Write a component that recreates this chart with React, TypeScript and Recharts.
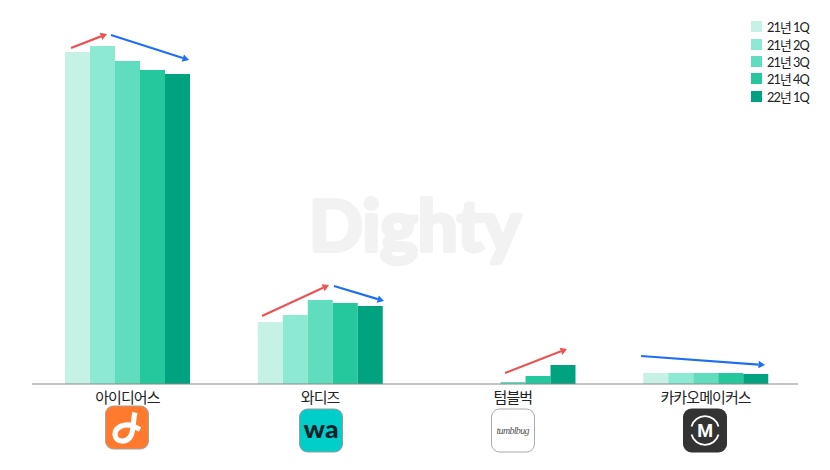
import { BarChart, Bar, XAxis, YAxis, Legend } from 'recharts';

const categories = ['아이디어스', '와디즈', '텀블벅', '카카오메이커스'];
const seriesNames = ['21년 1Q', '21년 2Q', '21년 3Q', '21년 4Q', '22년 1Q'];
const q1_21 = [332, 62, 0, 11];
const q2_21 = [338, 69, 0, 11];
const q3_21 = [323, 84, 2, 11];
const q4_21 = [314, 81, 8, 11];
const q1_22 = [310, 78, 19, 10];
const seriesValues = [q1_21, q2_21, q3_21, q4_21, q1_22];
const COLORS = ['#c6f2e6', '#8de9d2', '#60ddbe', '#25c79c', '#00a27f'];

const data = categories.map((name, i) => {
  const row: any = { name };
  seriesNames.forEach((s, j) => {
    row[s] = seriesValues[j][i];
  });
  return row;
});

const RED = '#ea5455';
const BLUE = '#1f6ff0';
// trend arrows drawn over the bars: [x1, y1, x2, y2, colour]
const arrows: [number, number, number, number, string][] = [
  [71, 48, 107, 34, RED],
  [111, 35, 189, 60, BLUE],
  [262, 316, 329, 285, RED],
  [334, 286, 384, 301, BLUE],
  [505, 373, 567, 349, RED],
  [641, 356, 765, 365, BLUE],
];

function Arrow({ x1, y1, x2, y2, color }: any) {
  const a = Math.atan2(y2 - y1, x2 - x1);
  const len = 6.5;
  const w = 3.8;
  const bx = x2 - len * Math.cos(a);
  const by = y2 - len * Math.sin(a);
  const px = -Math.sin(a) * w;
  const py = Math.cos(a) * w;
  return (
    <g>
      <line x1={x1} y1={y1} x2={bx} y2={by} stroke={color} strokeWidth={2.2} />
      <polygon points={`${x2},${y2} ${bx + px},${by + py} ${bx - px},${by - py}`} fill={color} />
    </g>
  );
}

function Logo({ index }: { index: number }) {
  const box = (fill: string, stroke: string) => (
    <rect x={-21.5} y={-21.5} width={43} height={43} rx={8} fill={fill} stroke={stroke} strokeWidth={1} />
  );
  if (index === 0) {
    return (
      <g>
        {box('#ff7a2d', '#a9a39e')}
        <path
          d="M8 -15 C6 -8 7 2 4 8 C0 16 -12 15 -12 7 C-12 -1 -2 -4 5 -2 L13 2"
          fill="none"
          stroke="#fff"
          strokeWidth={5.2}
        />
      </g>
    );
  }
  if (index === 1) {
    return (
      <g>
        {box('#00cfc9', '#999')}
        <text
          x={0}
          y={7.5}
          textAnchor="middle"
          fontFamily="Lato"
          fontWeight={900}
          fontSize={25}
          textLength={35}
          lengthAdjust="spacingAndGlyphs"
          fill="#15202b"
        >
          wa
        </text>
      </g>
    );
  }
  if (index === 2) {
    return (
      <g>
        {box('#fff', '#aaa')}
        <text
          x={0}
          y={3}
          textAnchor="middle"
          fontFamily="Liberation Serif"
          fontStyle="italic"
          fontSize={10}
          textLength={33}
          fill="#555"
        >
          tumblbug
        </text>
      </g>
    );
  }
  return (
    <g>
      {box('#333', '#333')}
      <path d="M-13.5 -4 A14 14 0 0 1 13.5 -4" fill="none" stroke="#fff" strokeWidth={1.8} />
      <path d="M-13.5 4 A14 14 0 0 0 13.5 4" fill="none" stroke="#fff" strokeWidth={1.8} />
      <text x={0} y={6.5} textAnchor="middle" fontFamily="Roboto" fontWeight={700} fontSize={18} fill="#fff">
        M
      </text>
    </g>
  );
}

// logo centre relative to the tick position
const logoOffsets = [
  [-0.4, 35.5],
  [0.9, 38.5],
  [0.1, 38.5],
  [-0.6, 38.5],
];

function CategoryTick({ x, y, payload, index }: any) {
  const off = logoOffsets[index];
  return (
    <g transform={`translate(${x},${y})`}>
      <text x={0} y={11} textAnchor="middle" fontFamily="'Noto Sans CJK KR'" fontSize={15} letterSpacing={-0.9} fill="#222">
        {payload.value}
      </text>
      <g transform={`translate(${off[0]},${off[1]})`}>
        <Logo index={index} />
      </g>
    </g>
  );
}

function LegendList({ payload }: any) {
  return (
    <div style={{ width: 70, whiteSpace: 'nowrap' }}>
      {(payload || []).map((p: any) => (
        <div key={p.value} style={{ display: 'flex', alignItems: 'center', height: 17.4 }}>
          <span style={{ width: 11, height: 11, background: p.color, marginRight: 5 }} />
          <span style={{ fontFamily: "Lato, 'Noto Sans CJK KR'", fontSize: 12.8, letterSpacing: -0.95, color: '#222' }}>
            {p.value}
          </span>
        </div>
      ))}
    </div>
  );
}

export default function App() {
  return (
    <div style={{ position: 'absolute', left: 0, top: 0, width: 830, height: 470, background: '#fff' }}>
      <svg width={830} height={470} style={{ position: 'absolute', left: 0, top: 0 }}>
        <text
          x={415}
          y={251}
          textAnchor="middle"
          fontFamily="Lato"
          fontWeight={700}
          fontSize={70}
          textLength={212}
          lengthAdjust="spacingAndGlyphs"
          fill="#f2f2f2"
          stroke="#f2f2f2"
          strokeWidth={4}
          strokeLinejoin="round"
        >
          Dighty
        </text>
      </svg>
      <div style={{ position: 'absolute', left: 0, top: 0 }}>
        <BarChart
          width={830}
          height={470}
          data={data}
          barSize={25}
          barGap={0}
          margin={{ top: 4, right: 32, bottom: 85, left: 32 }}
        >
          <XAxis
            dataKey="name"
            height={1}
            interval={0}
            tickLine={false}
            axisLine={{ stroke: '#888', strokeWidth: 1 }}
            padding={{ left: -1, right: -4 }}
            tick={<CategoryTick />}
          />
          <YAxis hide domain={[0, 380]} />
          <Legend
            layout="vertical"
            align="right"
            verticalAlign="top"
            content={<LegendList />}
            wrapperStyle={{ position: 'absolute', left: 751, top: 18, width: 0 }}
          />
          {seriesNames.map((s, i) => (
            <Bar key={s} dataKey={s} fill={COLORS[i]} isAnimationActive={false} />
          ))}
        </BarChart>
      </div>
      <svg width={830} height={470} style={{ position: 'absolute', left: 0, top: 0, pointerEvents: 'none' }}>
        {arrows.map(([x1, y1, x2, y2, color], i) => (
          <Arrow key={i} x1={x1} y1={y1} x2={x2} y2={y2} color={color} />
        ))}
      </svg>
    </div>
  );
}
